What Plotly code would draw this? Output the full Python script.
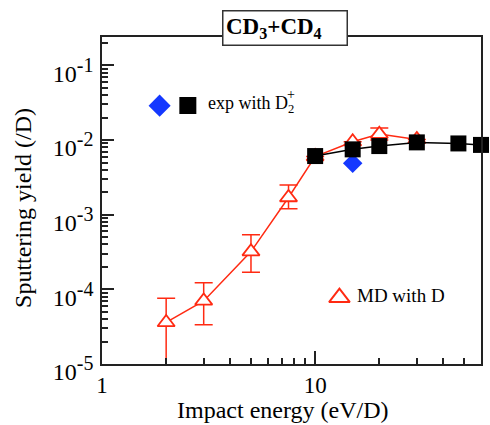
import numpy as np
import plotly.graph_objects as go

# ---- data ----
# MD simulation, D impact (red open triangles with error bars)
md_energy = [2, 3, 5, 7.5, 10, 15, 20, 30]
md_yield = [3.6e-5, 7.0e-5, 3.2e-4, 1.7e-3, 6.0e-3, 9.5e-3, 1.2e-2, 1.02e-2]
md_upper = [7.6e-5, 1.23e-4, 5.4e-4, 2.5e-3, 6.0e-3, 9.5e-3, 1.45e-2, 1.02e-2]
md_lower = [5.0e-6, 3.35e-5, 1.7e-4, 1.2e-3, 6.0e-3, 9.5e-3, 1.0e-2, 1.02e-2]

# experiment with D2+ (black squares)
exp_energy = [10, 15, 20, 30, 47, 60]
exp_yield = [6.1e-3, 7.5e-3, 8.3e-3, 9.3e-3, 9.0e-3, 8.6e-3]

# experiment with D2+ (blue diamond)
exp2_energy = [15]
exp2_yield = [4.9e-3]

y_tick_vals = [1e-5, 1e-4, 1e-3, 1e-2, 1e-1]
y_tick_exps = ["-5", "-4", "-3", "-2", "-1"]
x_tick_vals = [1, 10]
x_tick_text = ["1", "10"]

title_text = "<b>CD<sub>3</sub>+CD<sub>4</sub></b>"
exp_label = "exp with D<sub>2</sub>"
exp_label_charge = "+"
md_label = "MD with D"
x_title = "Impact energy (eV/D)"
y_title = "Sputtering yield (/D)"

RED = "#ff2a12"
BLUE = "#1438ff"
FONT = "Liberation Serif"

y_tick_text = ["10<sup><span style='font-size:20px'>%s</span></sup>" % e
               for e in y_tick_exps]

err_plus = [u - v for u, v in zip(md_upper, md_yield)]
err_minus = [v - l for v, l in zip(md_yield, md_lower)]

minor_x = [k * 10.0 ** n for n in range(0, 2) for k in range(2, 10)]
minor_y = [k * 10.0 ** n for n in range(-5, 0) for k in range(2, 10)]

fig = go.Figure()

fig.add_trace(go.Scatter(
    x=md_energy, y=md_yield, mode="lines+markers",
    line=dict(color=RED, width=1.5),
    marker=dict(symbol="triangle-up", size=15, color="white",
                line=dict(color=RED, width=1.8)),
    error_y=dict(type="data", array=err_plus, arrayminus=err_minus,
                 color=RED, thickness=1.5, width=9),
))

fig.add_trace(go.Scatter(
    x=exp2_energy, y=exp2_yield, mode="markers",
    marker=dict(symbol="diamond", size=15, color=BLUE, line=dict(width=0)),
))

fig.add_trace(go.Scatter(
    x=exp_energy, y=exp_yield, mode="lines+markers",
    line=dict(color="black", width=1.5),
    marker=dict(symbol="square", size=16, color="black",
                line=dict(width=0)),
    cliponaxis=False,
))

# legend glyphs, placed on an overlay axis spanning the plot area (0..1)
legend_glyphs = [
    # (x, y, symbol, size, fill, outline, outline width)
    (0.152, 0.790, "diamond", 17, BLUE, BLUE, 0),
    (0.2265, 0.7905, "square", 17, "black", "black", 0),
    (0.6265, 0.203, "triangle-up", 18, "white", RED, 2),
]
for gx, gy, sym, sz, fill, edge, ew in legend_glyphs:
    fig.add_trace(go.Scatter(
        x=[gx], y=[gy], mode="markers", xaxis="x2", yaxis="y2",
        marker=dict(symbol=sym, size=sz, color=fill, opacity=1,
                    line=dict(color=edge, width=ew)),
        cliponaxis=False,
    ))

axis_common = dict(
    showline=True, linecolor="#222", linewidth=1.5, mirror=True,
    ticks="inside", tickcolor="#222", tickwidth=1.5,
    showgrid=False, zeroline=False,
)

fig.update_layout(
    width=490, height=425,
    margin=dict(l=102, r=7, t=37, b=61),
    paper_bgcolor="white", plot_bgcolor="white",
    showlegend=False,
    font=dict(family=FONT, color="black"),
    xaxis=dict(type="log", range=[0, np.log10(60)],
               tickvals=x_tick_vals, ticktext=x_tick_text, ticklen=13,
               tickfont=dict(family=FONT, size=23, color="black"),
               minor=dict(tickvals=minor_x, ticks="inside", ticklen=6,
                          tickcolor="#222", tickwidth=1.5, showgrid=False),
               **axis_common),
    yaxis=dict(type="log", range=[-5, -0.62],
               tickvals=y_tick_vals, ticktext=y_tick_text, ticklen=12,
               tickfont=dict(family=FONT, size=24, color="black"),
               ticklabelshift=8, ticklabelstandoff=2,
               minor=dict(tickvals=minor_y, ticks="inside", ticklen=6,
                          tickcolor="#222", tickwidth=1.5, showgrid=False),
               **axis_common),
    xaxis2=dict(overlaying="x", range=[0, 1], visible=False),
    yaxis2=dict(overlaying="y", range=[0, 1], visible=False),
    annotations=[
        dict(text=title_text, xref="paper", yref="paper",
             x=0.3157, y=1.0275, xanchor="left", yanchor="middle",
             showarrow=False, width=118, height=28, align="left",
             font=dict(family=FONT, size=23, color="black"),
             bgcolor="white", bordercolor="#333", borderwidth=1.5,
             borderpad=2.5),
        dict(text=exp_label, xref="paper", yref="paper",
             x=0.275, y=0.795, xanchor="left", yanchor="middle",
             showarrow=False, font=dict(family=FONT, size=18)),
        dict(text=exp_label_charge, xref="paper", yref="paper",
             x=0.4974, y=0.8245, xanchor="center", yanchor="middle",
             showarrow=False, font=dict(family=FONT, size=14)),
        dict(text=md_label, xref="paper", yref="paper",
             x=0.6667, y=0.209, xanchor="left", yanchor="middle",
             showarrow=False, font=dict(family=FONT, size=19)),
        dict(text=x_title, xref="paper", yref="paper",
             x=0.475, y=-0.1407, xanchor="center", yanchor="middle",
             showarrow=False, font=dict(family=FONT, size=24)),
        dict(text=y_title, xref="paper", yref="paper",
             x=-0.2073, y=0.4786, xanchor="center", yanchor="middle",
             textangle=-90, showarrow=False,
             font=dict(family=FONT, size=24)),
    ],
)

fig.write_html("out.html")
